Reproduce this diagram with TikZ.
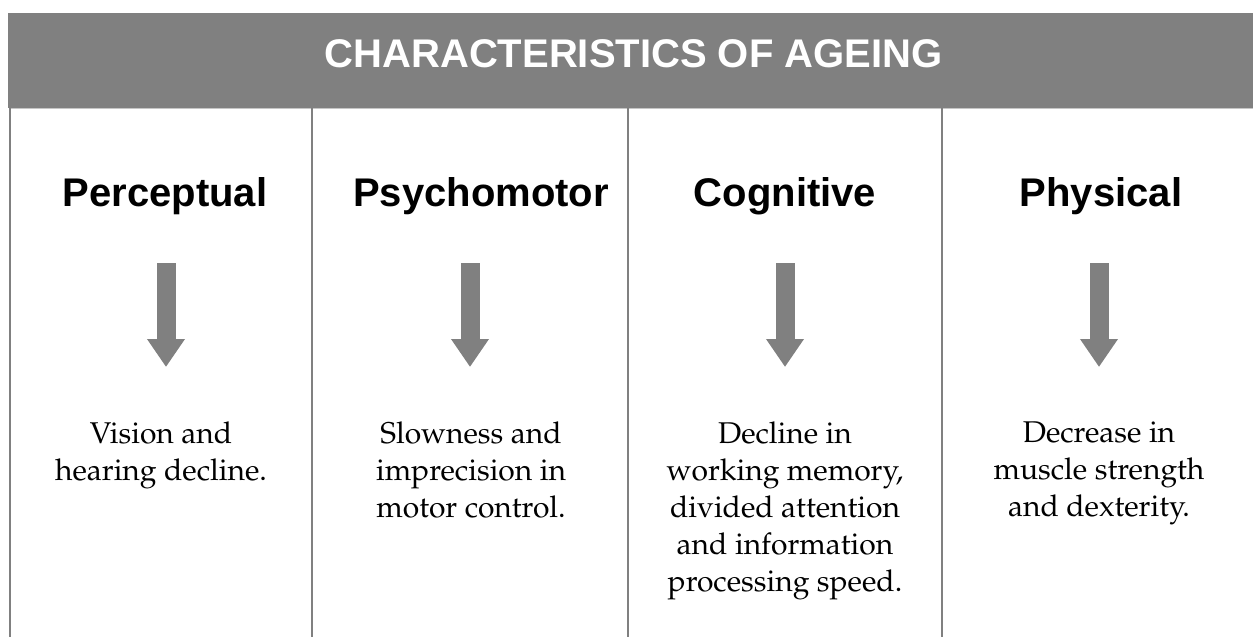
\documentclass[tikz,border=0pt]{standalone}
\usepackage[T1]{fontenc}
\usepackage{fontspec}
\setsansfont{Liberation Sans}
\usepackage{xcolor}
\usepackage{tikz}
\usetikzlibrary{arrows.meta}

\definecolor{bandgray}{HTML}{808080}
\newcommand{\bodyfont}{\fontencoding{T1}\fontfamily{ppl}\selectfont}

\begin{document}
\begin{tikzpicture}[x=1pt,y=-1pt,
    heading/.style={font=\sffamily\bfseries\fontsize{40}{48}\selectfont, anchor=base, inner sep=0pt},
    detail/.style={font=\bodyfont\fontsize{30}{37}\selectfont, align=center, anchor=north, inner sep=0pt},
    blockarrow/.style={draw=bandgray, line width=19pt, -{Triangle[width=36pt,length=28pt]}}]
            \useasboundingbox (0,0) rectangle (1253,637);
            \fill[bandgray] (8,13) rectangle (1253,108); % title band
            \draw[gray!45, line width=1pt] (9,108.5) -- (1253,108.5); % band edge
            \draw[bandgray, line width=2pt] (9.5,108) -- (9.5,637); % left border
            \draw[bandgray, line width=2pt] (312,108) -- (312,637); % column rule
            \draw[bandgray, line width=2pt] (628,108) -- (628,637); % column rule
            \draw[bandgray, line width=2pt] (942,108) -- (942,637); % column rule
            \node[heading, text=white] (title) at (633.5,67) {CHARACTERISTICS OF AGEING};
            \node[heading] (percep) at (165,206) {Perceptual};
            \node[heading] (psycho) at (481,206) {Psychomotor};
            \node[heading] (cogn) at (785,206) {Cognitive};
            \node[heading] (phys) at (1101,206) {Physical};
            \coordinate (percepA) at (166,263);
            \coordinate (percepB) at (166,367);
            \coordinate (psychoA) at (470,263);
            \coordinate (psychoB) at (470,367);
            \coordinate (cognA) at (785,263);
            \coordinate (cognB) at (785,367);
            \coordinate (physA) at (1099,263);
            \coordinate (physB) at (1099,367);
            \draw[blockarrow] (percepA) -- (percepB);
            \draw[blockarrow] (psychoA) -- (psychoB);
            \draw[blockarrow] (cognA) -- (cognB);
            \draw[blockarrow] (physA) -- (physB);
            \node[detail] (perceptxt) at (161,422) {Vision and\\hearing decline.};
            \node[detail] (psychotxt) at (471,422) {Slowness and\\imprecision in\\motor control.};
            \node[detail] (cogntxt) at (785,422) {Decline in\\working memory,\\divided attention\\and information\\processing speed.};
            \node[detail] (phystxt) at (1099,422) {Decrease in\\muscle strength\\and dexterity.};
        \end{tikzpicture}
\end{document}
